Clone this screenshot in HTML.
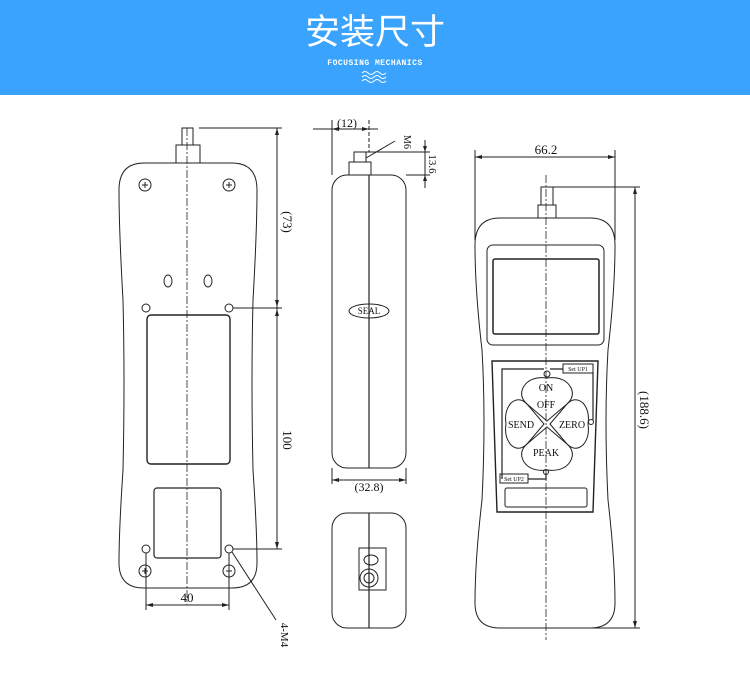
<!DOCTYPE html>
<html><head><meta charset="utf-8"><style>
html,body{margin:0;padding:0;background:#fff;width:750px;height:691px;overflow:hidden}
svg{display:block}
text{font-family:"Liberation Serif",serif;fill:#111}
</style></head><body>
<svg width="750" height="691" viewBox="0 0 750 691" xmlns="http://www.w3.org/2000/svg">
<rect x="0" y="0" width="750" height="95" fill="#39a3fd"/>
<text x="375" y="44" text-anchor="middle" style="font-family:'Liberation Sans','Noto Sans CJK SC',sans-serif;font-size:35px;fill:#fff">安装尺寸</text>
<text x="375" y="65" text-anchor="middle" style="font-family:'Liberation Mono',monospace;font-size:8px;font-weight:bold;fill:#fff;letter-spacing:0.5px">FOCUSING MECHANICS</text>
<g stroke="#fff" stroke-width="1" fill="none">
<path d="M362 73 q3 -3 6 0 t6 0 t6 0 t6 0"/>
<path d="M362 77 q3 -3 6 0 t6 0 t6 0 t6 0"/>
<path d="M362 81 q3 -3 6 0 t6 0 t6 0 t6 0"/>
</g>

<g stroke="#222" stroke-width="1" fill="none">
<!-- LEFT VIEW -->
<path d="M144 163 H232 Q257 163 257 190 Q257 230 253 300 Q251 380 253 470 Q257 530 257 563 Q257 588 232 588 H144 Q119 588 119 563 Q119 530 123 470 Q125 380 123 300 Q119 230 119 190 Q119 163 144 163 Z"/>
<rect x="176" y="145" width="24" height="18"/>
<rect x="182" y="128" width="11" height="17"/>
<line x1="187" y1="128" x2="187" y2="605" stroke-dasharray="8,2,2,2" stroke-width="0.8"/>
<circle cx="145" cy="185" r="6"/><circle cx="229" cy="185" r="6"/>
<circle cx="145" cy="571" r="6"/><circle cx="229" cy="571" r="6"/>
<path d="M142 185h6M145 182v6M226 185h6M229 182v6M142 571h6M145 568v6M226 571h6M229 568v6"/>
<ellipse cx="168" cy="281" rx="4" ry="6"/><ellipse cx="208" cy="281" rx="4" ry="6"/>
<circle cx="146" cy="308" r="4"/><circle cx="229" cy="308" r="4"/>
<circle cx="146" cy="549" r="4"/><circle cx="229" cy="549" r="4"/>
<rect x="147" y="315" width="83" height="149" rx="4" stroke-width="1.4"/>
<rect x="154" y="488" width="67" height="70" rx="3" stroke-width="1.2"/>
<line x1="199" y1="128" x2="282" y2="128"/>
<line x1="233" y1="308" x2="282" y2="308"/>
<line x1="233" y1="549" x2="282" y2="549"/>
<line x1="277" y1="128" x2="277" y2="549"/>
<line x1="146" y1="553" x2="146" y2="610"/>
<line x1="229" y1="553" x2="229" y2="610"/>
<line x1="146" y1="605" x2="229" y2="605"/>
<path d="M232 552 L276 620"/>

<!-- SIDE VIEW -->
<rect x="332" y="175" width="74" height="293" rx="15"/>
<line x1="369" y1="175" x2="369" y2="468" stroke-width="1.2"/>
<rect x="349" y="162" width="22" height="13"/>
<rect x="354" y="152" width="12" height="10"/>
<ellipse cx="369" cy="311" rx="20" ry="7"/>
<line x1="332" y1="120" x2="332" y2="175"/>
<line x1="369" y1="120" x2="369" y2="152" stroke-dasharray="4,2"/>
<line x1="313" y1="129" x2="378" y2="129"/>
<path d="M366 158 L395 141"/>
<line x1="366" y1="152" x2="430" y2="152"/>
<line x1="406" y1="175" x2="430" y2="175"/>
<line x1="425" y1="140" x2="425" y2="188"/>
<line x1="332" y1="468" x2="332" y2="484"/>
<line x1="406" y1="468" x2="406" y2="484"/>
<line x1="332" y1="480" x2="406" y2="480"/>
<rect x="332" y="513" width="74" height="115" rx="15"/>
<line x1="369" y1="513" x2="369" y2="628" stroke-width="1.2"/>
<rect x="359" y="548" width="27" height="42"/>
<ellipse cx="371" cy="560" rx="7" ry="5"/>
<circle cx="369" cy="578" r="9"/>
<circle cx="369" cy="578" r="5"/>

<!-- RIGHT VIEW -->
<path d="M500 218 H590 Q615 218 615 245 Q615 290 608 350 Q604 420 608 500 Q615 560 615 603 Q615 628 590 628 H500 Q475 628 475 603 Q475 560 482 500 Q486 420 482 350 Q475 290 475 245 Q475 218 500 218 Z"/>
<rect x="538" y="205" width="18" height="13"/>
<rect x="541" y="187" width="12" height="18"/>
<line x1="546" y1="175" x2="546" y2="640" stroke-dasharray="8,2,2,2" stroke-width="0.8"/>
<rect x="487" y="245" width="117" height="100" rx="6"/>
<rect x="493" y="259" width="106" height="75" rx="2" stroke-width="1.5"/>
<path d="M492 361 H598 L593 512 H497 Z" stroke-width="1.4"/>
<rect x="505" y="488" width="82" height="19" rx="2"/>
<path d="M502 479 V369 H544 M550 369 H563 M593 372 V420" stroke-width="1.2"/>
<circle cx="547" cy="374" r="3"/>
<circle cx="591" cy="422" r="2.5"/>
<path d="M547 421 L527 404 Q518 396 524 386 Q531 376 547 378 Q563 376 570 386 Q576 396 567 404 Z"/>
<path d="M544 424 L527 444 Q519 452 511 445 Q504 437 506 424 Q504 411 511 403 Q519 396 527 404 Z"/>
<path d="M550 424 L567 444 Q575 452 583 445 Q590 437 588 424 Q590 411 583 403 Q575 396 567 404 Z"/>
<path d="M547 427 L567 444 Q576 452 570 462 Q563 472 547 470 Q531 472 524 462 Q518 452 527 444 Z"/>
<path d="M528 479 H546 V473" stroke-width="1.2"/>
<circle cx="546" cy="472" r="2.5"/>
<rect x="563" y="364" width="30" height="9"/>
<rect x="500" y="474" width="28" height="9"/>
<line x1="475" y1="150" x2="475" y2="240"/>
<line x1="615" y1="150" x2="615" y2="240"/>
<line x1="475" y1="157" x2="615" y2="157"/>
<line x1="553" y1="187" x2="640" y2="187"/>
<line x1="590" y1="628" x2="640" y2="628"/>
<line x1="635" y1="187" x2="635" y2="628"/>
</g>
<g fill="#222">
<path d="M277 128l-2 7h4z M277 307l-2 -7h4z M277 309l-2 7h4z M277 549l-2 -7h4z"/>
<path d="M146 605l7 -2v4z M229 605l-7 -2v4z"/>
<path d="M332 129l7 -2v4z M369 129l-7 -2v4z M332 480l7 -2v4z M406 480l-7 -2v4z"/>
<path d="M425 152l-2 -6h4z M425 175l-2 6h4z"/>
<path d="M475 157l7 -2v4z M615 157l-7 -2v4z M635 187l-2 7h4z M635 628l-2 -7h4z"/>
</g>
<g font-size="13">
<text x="283" y="222" transform="rotate(90 283 222)" text-anchor="middle">(73)</text>
<text x="283" y="440" transform="rotate(90 283 440)" text-anchor="middle">100</text>
<text x="187" y="602" text-anchor="middle">40</text>
<text x="281" y="635" transform="rotate(90 281 635)" text-anchor="middle" font-size="11">4-M4</text>
<text x="347" y="127" text-anchor="middle" font-size="12">(12)</text>
<text x="404" y="142" transform="rotate(90 404 142)" text-anchor="middle" font-size="10">M6</text>
<text x="429" y="164" transform="rotate(90 429 164)" text-anchor="middle" font-size="11">13.6</text>
<text x="369" y="314" text-anchor="middle" font-size="9">SEAL</text>
<text x="369" y="491" text-anchor="middle" font-size="12">(32.8)</text>
<text x="546" y="154" text-anchor="middle">66.2</text>
<text x="640" y="410" transform="rotate(90 640 410)" text-anchor="middle">(188.6)</text>
<text x="546" y="391" text-anchor="middle" font-size="10">ON</text>
<text x="546" y="408" text-anchor="middle" font-size="10">OFF</text>
<text x="521" y="428" text-anchor="middle" font-size="10">SEND</text>
<text x="572" y="428" text-anchor="middle" font-size="10">ZERO</text>
<text x="546" y="456" text-anchor="middle" font-size="10">PEAK</text>
<text x="578" y="371" text-anchor="middle" font-size="6">Set UP1</text>
<text x="514" y="481" text-anchor="middle" font-size="6">Set UP2</text>
</g>
</svg>
</body></html>
